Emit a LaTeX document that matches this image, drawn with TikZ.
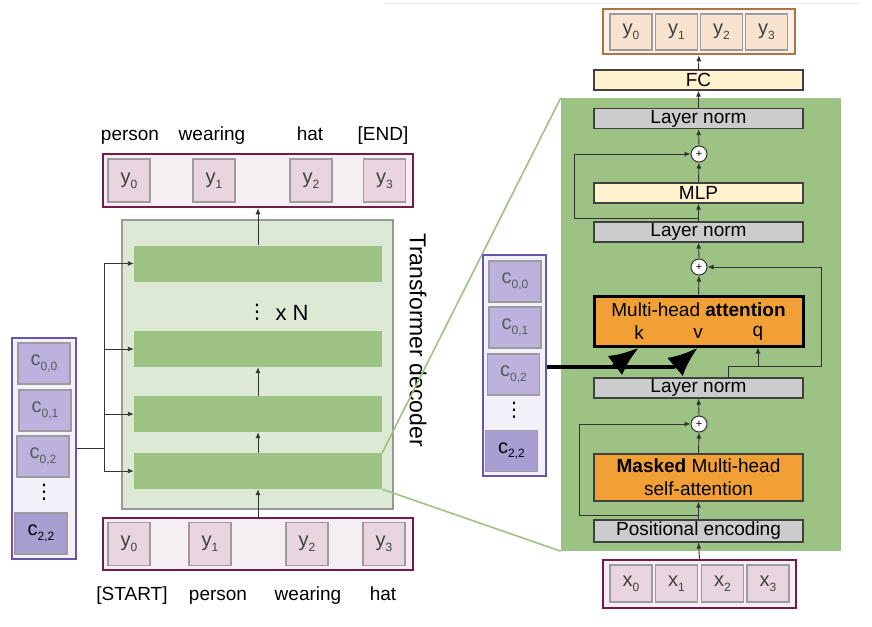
\documentclass[tikz,border=0pt]{standalone}
\usepackage{fontspec}
\setmainfont{Liberation Sans}
\newfontfamily\dotsfont{DejaVu Sans}
\usetikzlibrary{arrows.meta}

\definecolor{maroonB}{HTML}{741B47}
\definecolor{barfill}{HTML}{F5EFF3}
\definecolor{ypink}{HTML}{E8D5DF}
\definecolor{cellline}{HTML}{9E9A9E}
\definecolor{purpleB}{HTML}{6A55AE}
\definecolor{colfill}{HTML}{F2F0F8}
\definecolor{clight}{HTML}{BCB2DD}
\definecolor{cdark}{HTML}{A99ED2}
\definecolor{decfill}{HTML}{DCE9D4}
\definecolor{leaf}{HTML}{9DC384}
\definecolor{orangeA}{HTML}{F1A035}
\definecolor{paleyellow}{HTML}{FFF2CC}
\definecolor{normgray}{HTML}{CCCCCC}
\definecolor{brownB}{HTML}{B0733E}
\definecolor{outfill}{HTML}{FAF2EA}
\definecolor{peach}{HTML}{F8E3CF}
\definecolor{conn}{HTML}{333333}

% lowered small index, e.g. y_0
\newcommand{\sbs}[1]{\raisebox{-0.45ex}{\fontsize{12}{12}\selectfont #1}}

\tikzset{
  seqbar/.style={draw=maroonB, line width=2.5pt, fill=barfill, inner sep=0pt},
  ycell/.style={draw=cellline, line width=1.2pt, fill=ypink, text=black!75,
    minimum width=42pt, minimum height=43pt, inner sep=0pt,
    font=\fontsize{20}{22}\selectfont},
  ccol/.style={draw=purpleB, line width=2.5pt, fill=colfill, inner sep=0pt,
    minimum width=64pt, minimum height=221pt},
  ccell/.style={ycell, fill=clight, text=black!65, minimum width=52pt,
    minimum height=41pt},
  vdots/.style={inner sep=0pt, font=\dotsfont\fontsize{20}{20}\selectfont},
  word/.style={anchor=base},
  layer/.style={fill=leaf, minimum width=248pt, minimum height=36pt, inner sep=0pt},
  blockbox/.style={draw=black!75, line width=1.2pt, minimum width=209pt,
    minimum height=20pt, inner sep=0pt},
  normbox/.style={blockbox, fill=normgray},
  fcbox/.style={blockbox, fill=paleyellow},
  attn/.style={blockbox, fill=orangeA},
  plus/.style={circle, draw=black!80, fill=white, line width=1pt, minimum size=16pt,
    inner sep=0pt, font=\fontsize{11}{11}\selectfont},
  zoomline/.style={leaf, line width=1.6pt},
  bigarrow/.style={line width=4.5pt, -{Latex[length=30pt,width=24pt]}}
}

\begin{document}
\begin{tikzpicture}[x=1pt,y=-1pt,>={Latex[length=6pt,width=5pt]},
    font=\fontsize{19}{23}\selectfont]
  \useasboundingbox (0,0) rectangle (872,626);
  \draw[black!8] (385,3) -- (860,3);

  % left: the decoder stack
  \node[fill=decfill, draw=black!40, line width=1.2pt, minimum width=271pt,
    minimum height=289pt] (dec) at (257.5,364.5) {};
  \node[layer] (bar1) at (258,263.5) {};
  \node[layer] (bar2) at (258,349) {};
  \node[layer] (bar3) at (258,414) {};
  \node[layer] (bar4) at (258,471) {};
  \node[vdots] (dots) at (257,312) {⋮};
  \node[font=\fontsize{22}{24}\selectfont] (times) at (292,313) {x N};
  \node[rotate=-90, font=\fontsize{23}{25}\selectfont] (dectitle) at (418,340)
    {Transformer decoder};

  % output and input sequences
  \node[seqbar, minimum width=310pt, minimum height=53pt] (topbar) at (258,180.5) {};
  \foreach \x [count=\i from 0] in {129,214,311,384.5}
    \node[ycell] (ytop\i) at (\x,180.5) {y\sbs{\i}};
  \node[seqbar, minimum width=310pt, minimum height=52pt] (botbar) at (258,544) {};
  \foreach \x [count=\i from 0] in {129,210,307,384}
    \node[ycell] (ybot\i) at (\x,544) {y\sbs{\i}};
  \node[word] (wt0) at (130,140) {person};
  \node[word] (wt1) at (212,140) {wearing};
  \node[word] (wt2) at (310,140) {hat};
  \node[word] (wt3) at (383,140) {[END]};
  \node[word] (wb0) at (132,600) {[START]};
  \node[word] (wb1) at (218,600) {person};
  \node[word] (wb2) at (308,600) {wearing};
  \node[word] (wb3) at (383,600) {hat};

  \draw[->, conn, line width=0.9pt] (bar1.north) -- (topbar.south);
  \draw[->, conn, line width=0.9pt] (bar3.north) -- (bar2.south);
  \draw[->, conn, line width=0.9pt] (bar4.north) -- (bar3.south);
  \draw[->, conn, line width=0.9pt] (botbar.north) -- (bar4.south);

  % left: image features
  \node[ccol] (lc) at (44,448.5) {};
  \node[ccell] (lc00) at (44,363.5) {c\sbs{0,0}};
  \node[ccell] (lc01) at (45,410.5) {c\sbs{0,1}};
  \node[ccell] (lc02) at (43,456.5) {c\sbs{0,2}};
  \node[vdots] (lcdots) at (44,492) {⋮};
  \node[ccell, fill=cdark, text=black] (lc22) at (41,533.5) {c\sbs{2,2}};
  \coordinate (jl) at (104,448.5);
  \draw[conn, line width=0.9pt] (lc.east) -- (jl);
  \foreach \n in {1,...,4}
    \draw[->, conn, line width=0.9pt] (jl) |- (bar\n.west);

  % right: one decoder layer
  \node[fill=leaf, minimum width=280pt, minimum height=453pt, inner sep=0pt]
    (panel) at (701,324.5) {};
  \draw[zoomline] (bar4.north east) -- (panel.north west);
  \draw[zoomline] (bar4.south east) -- (panel.south west);

  \node[seqbar, draw=brownB, fill=outfill, minimum width=192pt, minimum height=45pt]
    (ybox) at (699,31.5) {};
  \foreach \x [count=\i from 0] in {631,676.5,721.5,766.5}
    \node[ycell, fill=peach, minimum height=36pt] (yr\i) at (\x,32) {y\sbs{\i}};
  \node[fcbox] (fc) at (698.5,80) {FC};
  \node[normbox] (ln1) at (698.5,118.5) {Layer norm};
  \node[plus] (p1) at (699,154) {+};
  \node[fcbox] (mlp) at (698.5,193) {MLP};
  \node[normbox] (ln2) at (698.5,232) {Layer norm};
  \node[plus] (p2) at (699,267) {+};
  \node[attn, draw=black, line width=3pt, minimum height=50pt] (mha) at (698.5,321) {};
  \node (mhatext) at (698.5,310) {Multi-head \textbf{attention}};
  \node (k) at (639,333) {k};
  \node (v) at (698,333) {v};
  \node (q) at (758,333) {q};
  \node[normbox] (ln3) at (698.5,388) {Layer norm};
  \node[plus] (p3) at (699,424) {+};
  \node[attn, minimum height=47pt, align=center] (masked) at (698.5,477.5)
    {\textbf{Masked} Multi-head\\self-attention};
  \node[normbox, minimum height=22pt] (pe) at (698.5,531) {Positional encoding};
  \node[seqbar, minimum width=193pt, minimum height=48pt] (xbox) at (699.5,584) {};
  \foreach \x [count=\i from 0] in {631,676.5,722.5,768}
    \node[ycell, minimum height=37pt] (xr\i) at (\x,583.5) {x\sbs{\i}};

  \foreach \a/\b in {fc/ybox,ln1/fc,p1/ln1,mlp/p1,ln2/mlp,p2/ln2,mha/p2,
      p3/ln3,masked/p3,pe/masked,xbox/pe}
    \draw[->, conn, line width=0.9pt] (\a.north) -- (\b.south);

  % residual paths
  \coordinate (s1) at (699,218);
  \draw[->, conn, line width=0.9pt] (s1) -- ++(-125,0) |- (p1.west);
  \coordinate (s3) at (699,515);
  \draw[->, conn, line width=0.9pt] (s3) -- ++(-120,0) |- (p3.west);
  \coordinate (s2) at (728,378);
  \coordinate (qj) at (758,366);
  \draw[conn, line width=0.9pt] (s2) |- (qj);
  \draw[->, conn, line width=0.9pt] (qj) -- (mha.south -| q);
  \draw[->, conn, line width=0.9pt] (qj) -- ++(63,0) |- (p2.east);

  % right: image features into k and v
  \node[ccol, minimum width=63pt] (rc) at (514.5,365.5) {};
  \node[ccell] (rc00) at (515,281.5) {c\sbs{0,0}};
  \node[ccell] (rc01) at (515,327.5) {c\sbs{0,1}};
  \node[ccell] (rc02) at (513.5,374.5) {c\sbs{0,2}};
  \node[vdots] (rcdots) at (514,410) {⋮};
  \node[ccell, fill=cdark, text=black] (rc22) at (511.5,451) {c\sbs{2,2}};
  \coordinate (kb) at (613,367);
  \coordinate (vb) at (675,367);
  \draw[line width=4.5pt] (rc.east |- kb) -- (vb);
  \draw[bigarrow] (kb) -- (mha.south -| k);
  \draw[bigarrow] (vb) -- (mha.south -| v);
\end{tikzpicture}
\end{document}
